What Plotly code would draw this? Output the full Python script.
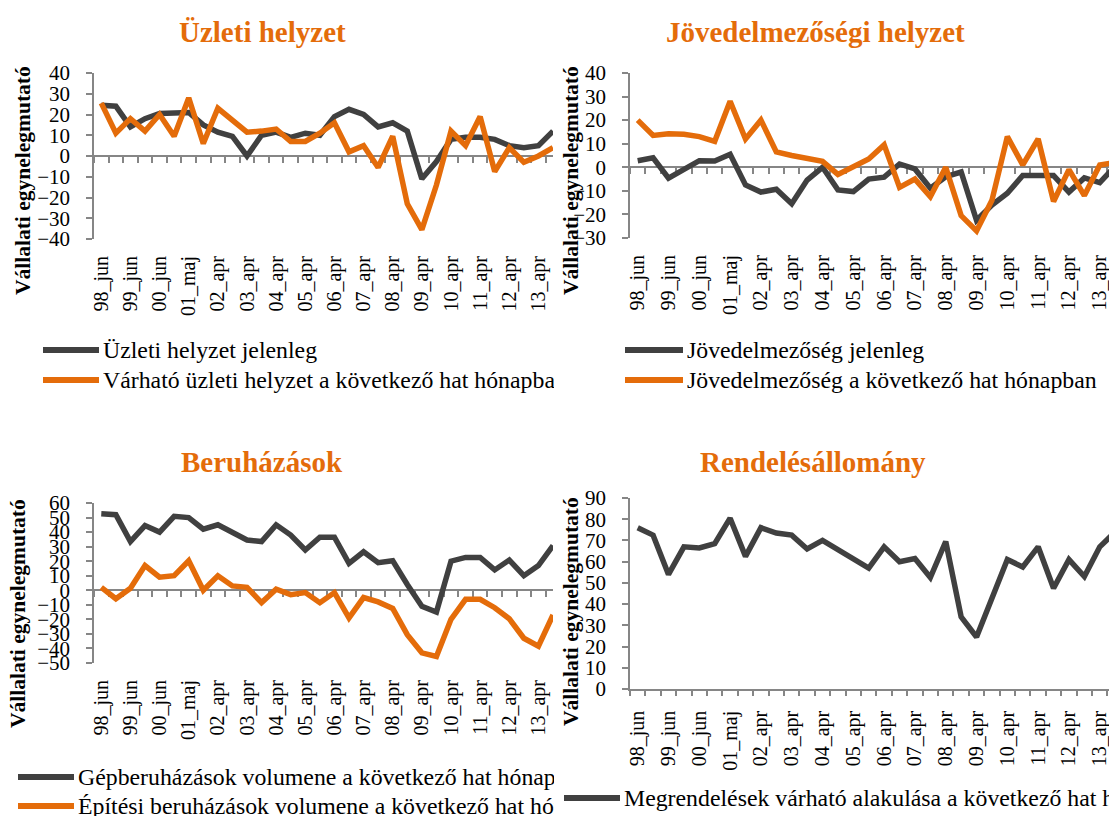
import plotly.graph_objects as go

# ---------------- data ----------------
categories = ["98_jun", "98_okt", "99_jun", "99_okt", "00_jun", "00_okt", "01_maj", "01_okt",
              "02_apr", "02_okt", "03_apr", "03_okt", "04_apr", "04_okt", "05_apr", "05_okt",
              "06_apr", "06_okt", "07_apr", "07_okt", "08_apr", "08_okt", "09_apr", "09_okt",
              "10_apr", "10_okt", "11_apr", "11_okt", "12_apr", "12_okt", "13_apr", "13_okt"]
tick_labels = categories[::2]

uzleti_jelenleg = [24.5, 24, 14, 18, 20.5, 21, 21, 15, 11.5, 9.5, 0, 10, 11.5, 9, 11, 10,
                   19, 22.5, 20, 14, 16, 12, -11, -2.7, 8, 9, 9, 8, 5, 4, 5, 12]
varhato_uzleti = [25.5, 11, 18, 12, 20, 9.5, 28, 6, 23, 17, 11.5, 12, 13, 7, 7, 11,
                  16, 2, 5, -5.5, 9.5, -23, -35.5, -14, 12, 5, 19, -7.5, 4, -3, 0, 4]

jov_jelenleg = [2.8, 4, -4.6, -1, 2.8, 2.7, 5.5, -7.5, -10.5, -9.3, -15.5, -5.4, 0, -9.6, -10.3, -5,
                -4.2, 1.4, -0.7, -8.9, -4, -2, -22.5, -16, -11, -3.5, -3.5, -3.5, -10.5, -4.5, -6.5, 0.5]
jov_kovetkezo = [20, 13.5, 14.2, 14, 13, 11, 28, 12, 20, 6.5, 5, 4, 2.5, -3, 0, 3.5,
                 9.5, -8.5, -5, -12.5, 0, -20.5, -27, -14, 13, 1, 12, -14.5, -1, -12, 1, 2]

gepberuhazas = [52.6, 52, 33.5, 44.5, 40, 50.8, 50, 42, 45, 40, 34.6, 33.5, 45, 38, 27.7, 36.5,
                36.5, 18.5, 26.5, 19, 20.3, 4, -11, -15, 20, 22.6, 22.6, 14, 20.8, 10, 17, 30.7]
epitesi_beruhazas = [2, -5.8, 1.4, 17, 9, 10, 20.3, 0, 10, 3, 2, -8.5, 0.7, -3, -1.6, -8.5,
                     -1.6, -19, -5, -8, -12.5, -30.5, -43, -45.5, -20, -6.2, -6.2, -12, -19.6, -33, -38.5, -17]

megrendelesek = [76, 72.5, 54, 67, 66.5, 68.5, 80.5, 62.5, 76, 73.5, 72.5, 66, 70, 65.5, 61, 57,
                 67, 60, 61.5, 52.5, 69.5, 34, 24.5, 42, 61, 57.5, 67, 47.5, 61, 53, 67, 74]

titles = ["Üzleti helyzet", "Jövedelmezőségi helyzet", "Beruházások", "Rendelésállomány"]
y_title = "Vállalati egynelegmutató"
series_names = [
    ["Üzleti helyzet jelenleg", "Várható üzleti helyzet a következő hat hónapban"],
    ["Jövedelmezőség jelenleg", "Jövedelmezőség a következő hat hónapban"],
    ["Gépberuházások volumene a következő hat hónapban", "Építési beruházások volumene a következő hat hónapban"],
    ["Megrendelések várható alakulása a következő hat hónapban"],
]
series_values = [
    [uzleti_jelenleg, varhato_uzleti],
    [jov_jelenleg, jov_kovetkezo],
    [gepberuhazas, epitesi_beruhazas],
    [megrendelesek],
]

# ---------------- style / layout ----------------
W, H = 1109, 816
FONT = "Liberation Serif"
DARK = "#404040"
ORANGE = "#E46C0A"
AXIS = "#868686"
COLORS = [DARK, ORANGE]


def px(x):
    return x / W


def py(y):
    return 1 - y / H


panels = [
    dict(xd=(94, 553), yd=(73, 239), yr=(-40, 40), xend=31.0, title=(262, 32), ytl=(23, 181),
         leg=dict(l0=43, l1=99, tx=102, ys=[350, 380], clip=553)),
    dict(xd=(630, 1109), yd=(73, 238), yr=(-30, 40), xend=30.6, title=(815, 32), ytl=(571, 181),
         leg=dict(l0=625, l1=683, tx=686, ys=[350, 380], clip=1109)),
    dict(xd=(94, 553), yd=(503, 663), yr=(-50, 60), xend=31.0, title=(262, 462), ytl=(18, 614),
         leg=dict(l0=18, l1=74, tx=77, ys=[777, 806], clip=553)),
    dict(xd=(630, 1109), yd=(498, 689), yr=(0, 90), xend=30.6, title=(813, 462), ytl=(571, 612),
         leg=dict(l0=564, l1=620, tx=623, ys=[798], clip=1109)),
]

fig = go.Figure()
layout = dict(template="none", width=W, height=H, margin=dict(l=0, r=0, t=0, b=0, pad=0),
              paper_bgcolor="white", plot_bgcolor="white", showlegend=False,
              font=dict(family=FONT, color="black", size=21))
annotations = []
shapes = []

for k, p in enumerate(panels, start=1):
    xo = k + 4
    xdom = [px(p["xd"][0]), min(1.0, px(p["xd"][1]))]
    ydom = [py(p["yd"][1]), py(p["yd"][0])]
    lo, hi = p["yr"]
    zero_pos = ydom[0] + (0 - lo) / (hi - lo) * (ydom[1] - ydom[0])
    xr = [-0.5, p["xend"]]

    layout[f"xaxis{k}"] = dict(domain=xdom, anchor=f"y{k}", type="category", range=xr,
                               tickmode="array", tickvals=tick_labels, ticktext=tick_labels,
                               tickangle=-90, ticks="", showgrid=False, zeroline=False,
                               showline=(k == 4), linecolor=AXIS, linewidth=1.5,
                               ticklabelstandoff=12, automargin=False,
                               tickfont=dict(family=FONT, size=20, color="black"))
    layout[f"yaxis{k}"] = dict(domain=ydom, anchor=f"x{k}", range=[lo, hi], dtick=10,
                               showline=True, linecolor=AXIS, linewidth=1.5,
                               ticks="outside", ticklen=6, tickcolor=AXIS, tickwidth=1.5,
                               showgrid=False, zeroline=(k != 4), zerolinecolor=AXIS,
                               zerolinewidth=1.5, ticklabelstandoff=12, automargin=False,
                               tickfont=dict(family=FONT, size=21, color="black"))
    layout[f"xaxis{xo}"] = dict(domain=xdom, overlaying=f"x{k}", anchor="free", position=zero_pos,
                                type="category", range=xr, tickmode="linear", tick0=0, dtick=1,
                                tickson="boundaries", ticks="outside", ticklen=6, tickcolor=AXIS,
                                tickwidth=1.5, showticklabels=False, showline=False,
                                showgrid=False, zeroline=False, layer="below traces",
                                automargin=False)

    for name, vals, col in zip(series_names[k - 1], series_values[k - 1], COLORS):
        fig.add_trace(go.Scatter(x=categories, y=vals, mode="lines", name=name,
                                 line=dict(color=col, width=5.5),
                                 xaxis=f"x{k}", yaxis=f"y{k}"))
    fig.add_trace(go.Scatter(x=categories, y=[None] * len(categories), mode="lines",
                             showlegend=False, hoverinfo="skip",
                             xaxis=f"x{xo}", yaxis=f"y{k}"))

    # chart title
    annotations.append(dict(text=titles[k - 1], x=px(p["title"][0]), y=py(p["title"][1]),
                            xref="paper", yref="paper", showarrow=False,
                            xanchor="center", yanchor="middle",
                            font=dict(family=FONT, size=29, color=ORANGE, weight="bold")))
    # y axis title
    annotations.append(dict(text=y_title, x=px(p["ytl"][0]), y=py(p["ytl"][1]),
                            xref="paper", yref="paper", showarrow=False, textangle=-90,
                            xanchor="center", yanchor="middle",
                            font=dict(family=FONT, size=21.5, color="black", weight="bold")))
    # legend
    lg = p["leg"]
    for name, col, yy in zip(series_names[k - 1], COLORS, lg["ys"]):
        shapes.append(dict(type="line", xref="paper", yref="paper",
                           x0=px(lg["l0"]), x1=px(lg["l1"]), y0=py(yy), y1=py(yy),
                           line=dict(color=col, width=6)))
        annotations.append(dict(text=name, x=px(lg["tx"]), y=py(yy), xref="paper", yref="paper",
                                showarrow=False, xanchor="left", yanchor="middle", align="left",
                                width=lg["clip"] - lg["tx"], borderpad=0,
                                font=dict(family=FONT, size=23.8, color="black")))

layout["annotations"] = annotations
layout["shapes"] = shapes
fig.update_layout(**layout)
fig.write_html("out.html", config={"displayModeBar": False},
               post_script="document.body.style.margin='0px';document.body.style.overflow='hidden';")
